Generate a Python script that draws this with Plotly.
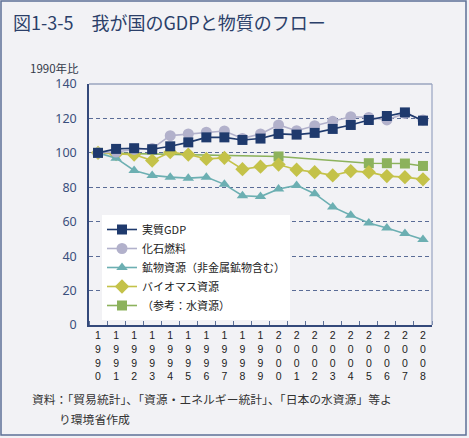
import plotly.graph_objects as go

years = list(range(1990, 2009))
year_labels = ["<br>".join(str(y)) for y in years]

gdp = [100, 102.3, 102.7, 102.1, 103.8, 106.1, 109.0, 109.0, 107.5, 108.3,
       111.0, 110.6, 111.6, 113.9, 116.2, 119.1, 121.4, 123.5, 118.7]
fossil = [100, 100.5, 102.0, 102.5, 110.0, 111.0, 112.0, 112.7, 108.4, 111.0,
          116.2, 112.9, 115.8, 118.3, 121.0, 120.6, 119.1, 122.9, 119.1]
mineral = [100, 96.9, 89.8, 86.9, 85.9, 85.3, 85.9, 81.7, 75.1, 74.6,
           79.0, 81.1, 76.3, 68.6, 63.8, 59.3, 56.4, 53.2, 49.7]
biomass = [100, 99.3, 99.0, 95.5, 100.4, 99.0, 96.5, 97.1, 90.5, 92.0,
           93.2, 90.2, 88.8, 86.9, 89.4, 88.8, 86.5, 85.9, 84.6]
water = [100, None, None, None, None, None, None, None, None, None,
         97.9, None, None, None, None, 94.0, 94.0, 93.8, 92.4]

y_ticks = [0, 20, 40, 60, 80, 100, 120, 140]

names = ["実質GDP", "化石燃料", "鉱物資源（非金属鉱物含む）", "バイオマス資源", "（参考：水資源）"]
colors = ["#1f3a6d", "#b2b1cb", "#6cafb2", "#c4c249", "#8cb25c"]
symbols = ["square", "circle", "triangle-up", "diamond", "square"]
sizes = [10, 11, 10, 11, 10]
series = [gdp, fossil, mineral, biomass, water]

fig = go.Figure()
# draw order: water, biomass, mineral, fossil, GDP (GDP on top)
for i in [4, 3, 2, 1, 0]:
    fig.add_trace(go.Scatter(
        x=years, y=series[i], name=names[i], mode="lines+markers",
        connectgaps=True, legendrank=i + 1,
        line=dict(color=colors[i], width=1.6),
        marker=dict(symbol=symbols[i], size=sizes[i], color=colors[i]),
    ))

W, H = 469, 438
L, R, T, B = 89, 37, 84, 113
pw, ph = W - L - R, H - T - B

def px(x):
    return (x - L) / pw

def py(y):
    return (H - B - y) / ph

shapes = [
    # outer border
    dict(type="rect", xref="paper", yref="paper", x0=px(1), x1=px(466), y0=py(435), y1=py(1),
         line=dict(color="#5d7096", width=1.5), layer="below"),
    # top frame
    dict(type="line", xref="paper", yref="paper", x0=0, x1=1, y0=1, y1=1,
         line=dict(color="#6e7ea4", width=1.2)),
    # right frame
    dict(type="line", xref="paper", yref="paper", x0=1, x1=1, y0=0, y1=1,
         line=dict(color="#98a3c2", width=1.2)),
]

annotations = [
    dict(text="図1-3-5　我が国のGDPと物質のフロー", xref="paper", yref="paper",
         x=px(11), y=py(22), xanchor="left", yanchor="middle", showarrow=False,
         font=dict(family="Noto Sans CJK JP", size=18, color="#2b3f69")),
    dict(text="1990年比", xref="paper", yref="paper",
         x=px(28), y=py(68), xanchor="left", yanchor="middle", showarrow=False,
         font=dict(family="Noto Sans CJK JP", size=11.5, color="#333a4a")),
    dict(text="資料：「貿易統計」、「資源・エネルギー統計」、「日本の水資源」等よ", xref="paper", yref="paper",
         x=px(30), y=py(398), xanchor="left", yanchor="middle", showarrow=False,
         font=dict(family="Noto Sans CJK JP", size=11.8, color="#333333")),
    dict(text="り環境省作成", xref="paper", yref="paper",
         x=px(57), y=py(418), xanchor="left", yanchor="middle", showarrow=False,
         font=dict(family="Noto Sans CJK JP", size=11.8, color="#333333")),
]

fig.update_layout(
    width=W, height=H,
    margin=dict(l=L, r=R, t=T, b=B, autoexpand=False),
    paper_bgcolor="#f2f2f5", plot_bgcolor="#f2f2f5",
    font=dict(family="Noto Sans CJK JP", color="#222222"),
    showlegend=True,
    legend=dict(x=px(102), y=py(215), xanchor="left", yanchor="top",
                bgcolor="#ffffff", borderwidth=0,
                font=dict(family="Noto Sans CJK JP", size=11, color="#222222"),
                tracegroupgap=0, itemwidth=30),
    shapes=shapes, annotations=annotations,
)

fig.update_xaxes(
    range=[1989.5, 2008.5], tickmode="array", tickvals=years, ticktext=year_labels,
    ticks="", showgrid=False, zeroline=False,
    showline=True, linecolor="#34497a", linewidth=1.5,
    tickfont=dict(family="Liberation Sans", size=10.5, color="#222222"),
    ticklabelstandoff=0,
    minor=dict(tick0=1990.5, dtick=1, ticks="inside", ticklen=4, tickcolor="#5d7096", showgrid=False),
)
fig.update_yaxes(
    range=[0, 140], tickmode="array", tickvals=y_ticks, ticks="",
    showgrid=True, gridcolor="#5a6c96", gridwidth=1, griddash="4px,3px",
    zeroline=False, showline=True, linecolor="#34497a", linewidth=1.5,
    tickfont=dict(family="Noto Sans", size=12.5, color="#3a4f7c"),
    ticklabelstandoff=8,
)

fig.write_html("out.html", post_script="document.body.style.margin='0';",
               config={"displayModeBar": False})
